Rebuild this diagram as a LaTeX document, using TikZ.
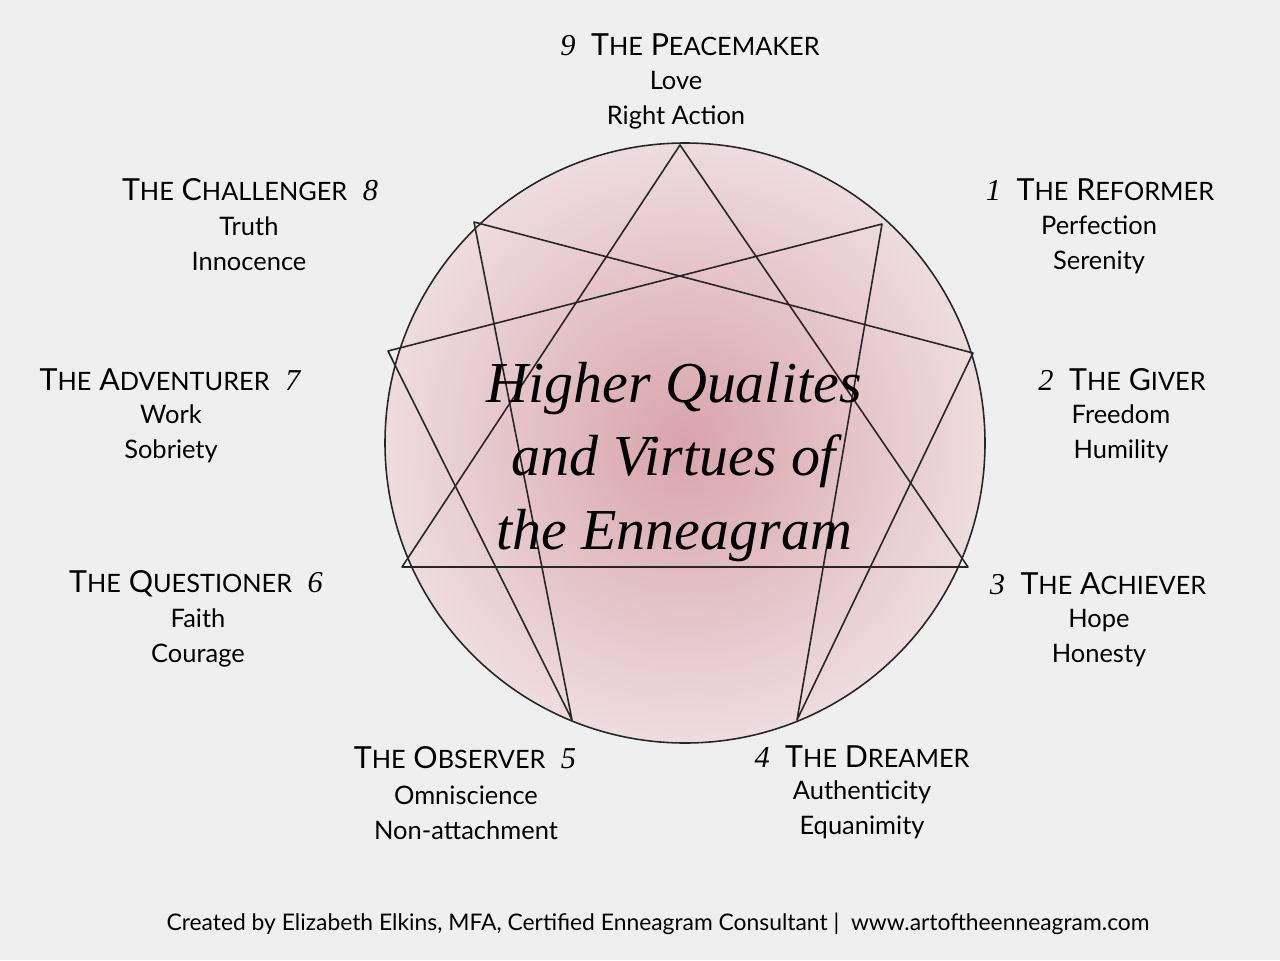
\documentclass[tikz,border=0pt]{standalone}
\usepackage{fontspec}
\setmainfont{Lato}
\newfontfamily\numfont{Liberation Serif}
\definecolor{bgcol}{HTML}{EFEFEF}
\definecolor{pinkin}{HTML}{D9A3AC}
\definecolor{pinkout}{HTML}{EDDCDF}
\newcommand\typenum[1]{{\numfont\itshape\LARGE #1}}
\newcommand\capsw[2]{{\LARGE #1}{\Large #2}}
\begin{document}
\begin{tikzpicture}
  [x=0.02cm,y=-0.02cm,font=\LARGE]
  \tikzset{label_style/.style={align=center,inner sep=0pt},
    value_style/.style={label_style,font=\fontsize{14.5}{19.8}\selectfont},
    star_line/.style={draw=black!85, line width=0.9pt, line join=round}}
  \fill[bgcol] (0,0) rectangle (1280,960);
  \shade[inner color=pinkin, outer color=pinkout, draw=black!85, line width=0.9pt] (685,443) circle (300);
  % points of the figure
  \coordinate (p9) at (680,145);
  \coordinate (p8) at (474,222);
  \coordinate (p1) at (882,224);
  \coordinate (p7) at (388,351);
  \coordinate (p2) at (973,353);
  \coordinate (p6) at (402,567);
  \coordinate (p3) at (968,567);
  \coordinate (p5) at (572,720);
  \coordinate (p4) at (797,720);
  \draw[star_line] (p9) -- (p3) -- (p6) -- cycle;
  \draw[star_line] (p1) -- (p4) -- (p2) -- (p8) -- (p5) -- (p7) -- cycle;
  % labels
  \node[label_style] (t9) at (690,45) {\typenum{9}\ \ \capsw{T}{HE} \capsw{P}{EACEMAKER}};
  \node[value_style] (v9) at (676,100) {Love\\Right Action};
  \node[label_style] (t8) at (250,190) {\capsw{T}{HE} \capsw{C}{HALLENGER}\ \ \typenum{8}};
  \node[value_style] (v8) at (249,244) {Truth\\Innocence};
  \node[label_style] (t1) at (1100,190) {\typenum{1}\ \ \capsw{T}{HE} \capsw{R}{EFORMER}};
  \node[value_style] (v1) at (1099,245) {Perfection\\Serenity};
  \node[label_style] (t7) at (170,380) {\capsw{T}{HE} \capsw{A}{DVENTURER}\ \ \typenum{7}};
  \node[value_style] (v7) at (171,434) {Work\\Sobriety};
  \node[label_style] (t2) at (1122,380) {\typenum{2}\ \ \capsw{T}{HE} \capsw{G}{IVER}};
  \node[value_style] (v2) at (1121,434) {Freedom\\Humility};
  \node[label_style] (t6) at (196,584) {\capsw{T}{HE} \capsw{Q}{UESTIONER}\ \ \typenum{6}};
  \node[value_style] (v6) at (198,638) {Faith\\Courage};
  \node[label_style] (t3) at (1098,584) {\typenum{3}\ \ \capsw{T}{HE} \capsw{A}{CHIEVER}};
  \node[value_style] (v3) at (1099,638) {Hope\\Honesty};
  \node[label_style] (t5) at (465,758) {\capsw{T}{HE} \capsw{O}{BSERVER}\ \ \typenum{5}};
  \node[value_style] (v5) at (466,813) {Omniscience\\Non-attachment};
  \node[label_style] (t4) at (862,757) {\typenum{4}\ \ \capsw{T}{HE} \capsw{D}{REAMER}};
  \node[value_style] (v4) at (862,810) {Authenticity\\Equanimity};
  \node[label_style, font=\numfont\itshape\fontsize{33}{42}\selectfont] (head) at (674,462)
    {Higher Qualites\\and Virtues of\\the Enneagram};
  \node[label_style, font=\fontsize{13}{15}\selectfont] (foot) at (658,924)
    {Created by Elizabeth Elkins, MFA, Certified Enneagram Consultant \textbar\ \ www.artoftheenneagram.com};
\end{tikzpicture}
\end{document}
